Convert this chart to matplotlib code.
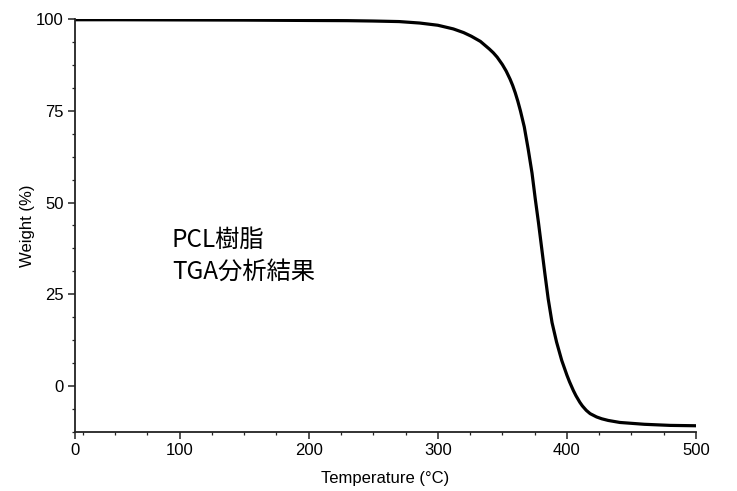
import matplotlib
matplotlib.use("Agg")
import matplotlib.pyplot as plt
from matplotlib.ticker import MultipleLocator, FixedLocator

plt.rcParams['font.family'] = ['Liberation Sans', 'DejaVu Sans']

temperature = [19, 50, 100, 150, 200, 230, 250, 270, 286, 300, 312, 320, 326,
               333, 340, 343, 346, 350, 353, 356, 358, 360, 362, 364, 367, 370,
               373, 375.5, 378, 380.5, 383, 385.5, 388.5, 392, 396, 400, 402,
               405, 407, 410, 412, 415, 418, 423, 427, 432, 441, 460, 480, 500]
weight = [99.8, 99.8, 99.75, 99.7, 99.6, 99.55, 99.45, 99.3, 98.9, 98.3,
          97.3, 96.3, 95.3, 93.9, 91.8, 90.8, 89.6, 87.6, 85.8, 83.6, 81.9,
          79.9, 77.6, 75.0, 70.6, 64.6, 58.0, 51.0, 44.5, 37.5, 30.5, 23.8,
          17.3, 12.0, 7.0, 3.0, 1.2, -1.2, -2.6, -4.4, -5.4, -6.6, -7.5,
          -8.4, -8.9, -9.35, -9.9, -10.4, -10.7, -10.8]

x_tick_pos = [19, 100, 200, 300, 400, 500]
x_tick_labels = ['0', '100', '200', '300', '400', '500']
y_ticks = [0, 25, 50, 75, 100]
annotation = "PCL樹脂\nTGA分析結果"

fig = plt.figure(figsize=(7.37, 4.91), dpi=100)
ax = fig.add_axes([75/737, 59/491, (696-75)/737, (432-19)/491])

ax.plot(temperature, weight, color='black', lw=2.3, solid_capstyle='round',
        solid_joinstyle='round')

ax.set_xlim(19, 500)
ax.set_ylim(-12.5, 100)
ax.set_xticks(x_tick_pos)
ax.set_xticklabels(x_tick_labels)
ax.set_yticks(y_ticks)
ax.xaxis.set_minor_locator(FixedLocator([25, 50, 75, 125, 150, 175, 225, 250, 275,
                                         325, 350, 375, 425, 450, 475]))
ax.yaxis.set_minor_locator(MultipleLocator(6.25))

for s in ['top', 'right']:
    ax.spines[s].set_visible(False)
for s in ['left', 'bottom']:
    ax.spines[s].set_linewidth(1.3)
    ax.spines[s].set_color('#222222')

ax.tick_params(axis='both', which='major', direction='out', length=5, width=1.1,
               labelsize=12, color='#222222', pad=3)
ax.tick_params(axis='both', which='minor', direction='out', length=2.5, width=0.9,
               color='#222222')

ax.set_xlabel('Temperature (°C)', fontsize=12, labelpad=9)
ax.set_ylabel('Weight (%)', fontsize=12, labelpad=1)

ax.text(94, 35.5, annotation, fontsize=17.5, va='center', ha='left',
        family=['Noto Sans CJK JP', 'DejaVu Sans'], linespacing=1.32)

fig.savefig('out.png', dpi=100)
